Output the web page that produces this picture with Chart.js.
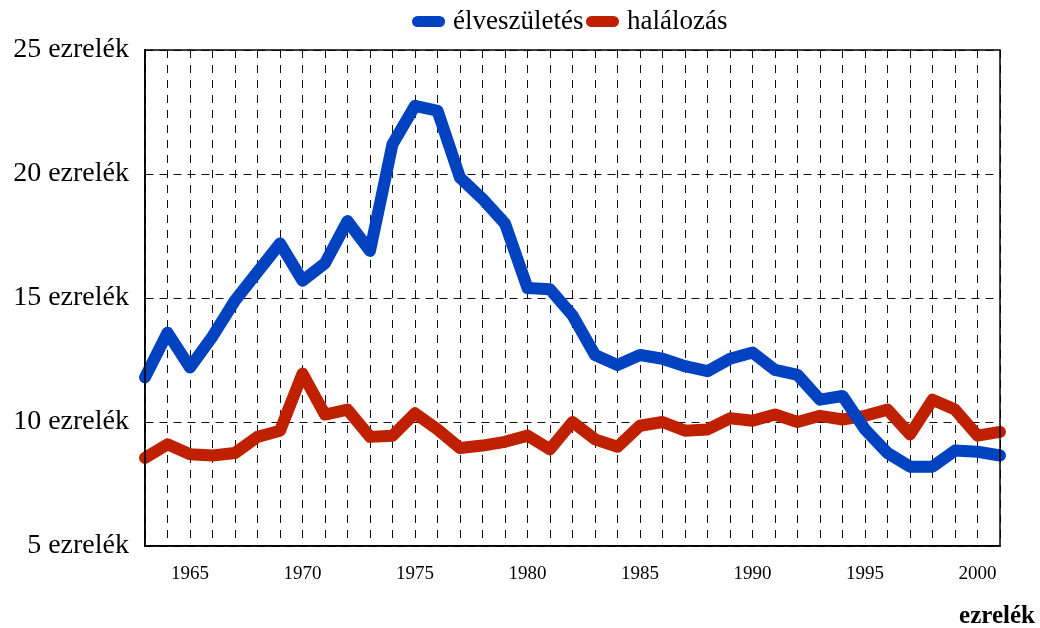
<!DOCTYPE html>
<html>
<head>
<meta charset="utf-8">
<script src="https://cdn.jsdelivr.net/npm/chart.js@4/dist/chart.umd.min.js"></script>
<style>
  html, body { margin: 0; padding: 0; background: #fff; }
  #wrap { width: 1040px; height: 628px; position: relative; }
</style>
</head>
<body>
<div id="wrap"><canvas id="rateChart"></canvas></div>
<script>
// Years on the x axis
const years = [1963, 1964, 1965, 1966, 1967, 1968, 1969, 1970, 1971, 1972,
               1973, 1974, 1975, 1976, 1977, 1978, 1979, 1980, 1981, 1982,
               1983, 1984, 1985, 1986, 1987, 1988, 1989, 1990, 1991, 1992,
               1993, 1994, 1995, 1996, 1997, 1998, 1999, 2000, 2001];

// Live births per thousand
const births = [11.8, 13.6, 12.2, 13.45, 14.9, 16.05, 17.2, 15.7, 16.4, 18.1,
                16.9, 21.2, 22.75, 22.55, 19.85, 19.0, 18.0, 15.4, 15.35, 14.3,
                12.7, 12.3, 12.7, 12.55, 12.25, 12.05, 12.55, 12.8, 12.1, 11.9,
                10.9, 11.05, 9.7, 8.75, 8.2, 8.2, 8.85, 8.8, 8.65];

// Deaths per thousand
const deaths = [8.55, 9.1, 8.7, 8.65, 8.75, 9.4, 9.65, 11.95, 10.3, 10.5,
                9.4, 9.45, 10.35, 9.7, 8.95, 9.05, 9.2, 9.45, 8.9, 10.0,
                9.3, 9.0, 9.85, 10.0, 9.65, 9.7, 10.15, 10.05, 10.3, 10.0,
                10.25, 10.1, 10.25, 10.5, 9.5, 10.9, 10.5, 9.45, 9.6];

const seriesNames = ['élveszületés', 'halálozás'];
const seriesColors = ['#0042c0', '#bf2100'];
const yTicks = [5, 10, 15, 20, 25];
const unitLabel = 'ezrelék';

const serif = '"Liberation Serif", "Times New Roman", serif';

// Box round the plot plus the unit note at the bottom right
const framePlugin = {
    id: 'frame',
    beforeInit(chart) {
        const fit = chart.legend.fit;
        chart.legend.fit = function() {
            fit.call(this);
            this.height = 50;
        };
    },
    afterDraw(chart) {
        const { ctx, chartArea: a } = chart;
        ctx.save();
        ctx.strokeStyle = '#000';
        ctx.lineWidth = 1.5;
        ctx.strokeRect(a.left, a.top, a.right - a.left, a.bottom - a.top);
        ctx.fillStyle = '#000';
        ctx.font = 'bold 25px ' + serif;
        ctx.textAlign = 'right';
        ctx.textBaseline = 'middle';
        ctx.fillText(unitLabel, 1035, 617);
        ctx.restore();
    }
};

const lineStyle = {
    borderWidth: 12,
    pointRadius: 0,
    pointHoverRadius: 0,
    tension: 0,
    borderCapStyle: 'round',
    borderJoinStyle: 'round',
    clip: false
};

new Chart(document.getElementById('rateChart'), {
    type: 'line',
    data: {
        labels: years,
        datasets: [
            Object.assign({ label: seriesNames[0], data: births, borderColor: seriesColors[0], backgroundColor: seriesColors[0] }, lineStyle),
            Object.assign({ label: seriesNames[1], data: deaths, borderColor: seriesColors[1], backgroundColor: seriesColors[1] }, lineStyle)
        ]
    },
    options: {
        responsive: true,
        maintainAspectRatio: false,
        animation: false,
        layout: { padding: { left: 0, right: 40, top: 0, bottom: 0 } },
        plugins: {
            legend: {
                display: true,
                position: 'top',
                fullSize: false,
                labels: {
                    usePointStyle: true,
                    pointStyle: 'line',
                    pointStyleWidth: 22,
                    padding: 8,
                    color: '#000',
                    font: { family: serif, size: 27 },
                    generateLabels: chart => {
                        const items = Chart.defaults.plugins.legend.labels.generateLabels(chart);
                        items.forEach((item, i) => {
                            item.pointStyle = 'line';
                            item.lineCap = 'round';
                            item.lineWidth = 11;
                            item.strokeStyle = seriesColors[i];
                            item.fillStyle = seriesColors[i];
                        });
                        return items;
                    }
                }
            },
            tooltip: { enabled: false }
        },
        scales: {
            x: {
                offset: false,
                afterFit: s => { s.height = 82; },
                grid: { color: '#111', lineWidth: 1, drawTicks: false },
                border: { display: true, color: '#000', width: 1.5, dash: [8, 7] },
                ticks: {
                    autoSkip: false,
                    maxRotation: 0,
                    padding: 17,
                    color: '#000',
                    font: { family: serif, size: 19 },
                    callback: (v, i) => years[i] % 5 === 0 ? String(years[i]) : ''
                }
            },
            y: {
                min: yTicks[0],
                max: yTicks[yTicks.length - 1],
                afterFit: s => { s.width = 145; },
                afterBuildTicks: s => { s.ticks = yTicks.map(v => ({ value: v })); },
                grid: { color: '#111', lineWidth: 1, drawTicks: false },
                border: { display: true, color: '#000', width: 1.5, dash: [8, 6] },
                ticks: {
                    padding: 16,
                    color: '#000',
                    font: { family: serif, size: 28 },
                    callback: v => v + ' ' + unitLabel
                }
            }
        }
    },
    plugins: [framePlugin]
});
</script>
</body>
</html>
